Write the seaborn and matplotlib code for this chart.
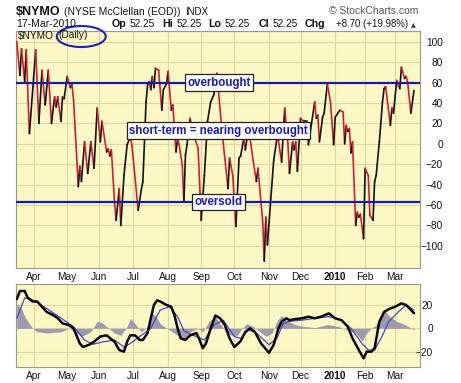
import numpy as np
import pandas as pd
import matplotlib
matplotlib.use("Agg")
import matplotlib.pyplot as plt
import seaborn as sns
from matplotlib.collections import LineCollection
from matplotlib.patches import Ellipse

# ---------------- data ----------------
month_labels = ["Apr", "May", "Jun", "Jul", "Aug", "Sep", "Oct", "Nov", "Dec", "2010", "Feb", "Mar"]
month_day = [11, 32, 52, 74, 96, 117, 138, 160, 180, 202, 221, 240]   # trading-session numbers

nymo_day = [0, 2, 3, 5, 6, 8, 12, 14, 16, 18,
            20, 22, 24, 25, 26, 28, 29, 30, 32, 34,
            35, 36, 37, 39, 40, 41, 43, 45, 47, 49,
            51, 53, 54, 57, 58, 59, 60, 62, 63, 65,
            66, 68, 70, 72, 73, 77, 79, 80, 82, 83,
            84, 85, 86, 87, 88, 90, 92, 93, 95, 96,
            98, 99, 101, 102, 103, 105, 106, 107, 108, 110,
            112, 115, 117, 119, 121, 123, 125, 127, 130, 134,
            135, 137, 139, 141, 142, 144, 145, 146, 148, 150,
            152, 153, 156, 157, 158, 159, 161, 163, 165, 166,
            168, 170, 172, 173, 175, 176, 177, 178, 180, 182,
            184, 185, 189, 190, 191, 192, 194, 195, 197, 199,
            201, 202, 205, 207, 208, 209, 210, 211, 212, 213,
            215, 216, 217, 218, 220, 221, 223, 224, 226, 227,
            228, 230, 232, 233, 234, 237, 238, 239, 241, 242,
            243, 244, 246, 247, 248, 250, 252]
nymo_val = [100, 67, 93, 61, 92, 10, 92, 20, 72, 38,
            72, 20, 46, 36, 46, 22, 46, 44, 66, 55,
            58, 43, 15, -42, -22, -37, 2, -29, 2, -24,
            35, 2, 22, -8, -5, -12, -6, -57, -75, -44,
            -80, -31, -1, 7, -1, -65, -45, -37, 41, 58,
            61, 53, 66, 55, 74, 72, 33, 53, 59, 71,
            33, 38, -8, 5, -1, -21, -57, -11, -1, 25,
            9, -4, -75, -31, 22, 41, 48, 69, 15, -44,
            -14, -31, -81, -14, -12, 5, -6, 5, 5, -17,
            -37, -24, -76, -115, -72, -99, -57, -16, 5, 3,
            -18, 35, 0, -29, 2, -6, 2, -27, 25, 22,
            22, -1, 41, 25, 28, 2, 26, 30, 59, 41,
            -1, 26, 33, 31, 0, 18, 12, 15, -9, 2,
            -80, -67, -72, -69, -93, -24, -31, -70, -75, -37,
            -31, 2, 41, 54, 56, 18, 35, 30, 62, 57,
            54, 75, 64, 66, 60, 30, 52.25]

overbought_level = 60
oversold_level = -57

macd_day = [0, 2, 5, 7, 10, 13, 16, 19, 23, 26,
            29, 33, 36, 40, 42, 46, 49, 53, 57, 62,
            65, 68, 70, 72, 75, 78, 80, 83, 85, 87,
            89, 91, 95, 98, 100, 102, 104, 107, 110, 114,
            116, 118, 120, 123, 126, 129, 132, 135, 138, 142,
            145, 148, 151, 155, 160, 163, 166, 168, 171, 173,
            177, 181, 185, 189, 193, 198, 202, 206, 210, 213,
            217, 220, 222, 225, 227, 230, 233, 236, 240, 244,
            247, 252]
macd_val = [25, 32, 32, 26, 23, 23, 18.5, 14, 11.4, 8.6,
            4.3, 2.8, 0, -13, -16, -14, -11.5, -7, -6, -11.5,
            -18.6, -20, -11.5, -6, -6, -10, -10, -4, 8.6, 20,
            24, 23, 20, 18.5, 11.4, 0, -8.6, -10, -6, -4,
            -10, -17, -13, 0, 11, 8.6, 2.8, -8.6, -16, -11,
            -3, 0, -3, -13, -21, -14, 0, 5.7, 8.6, 7,
            8, 8.6, 10, 8.6, 10, 12.8, 8.6, 7, 1.4, -8.6,
            -18.6, -25.7, -20, -20, -17, 5.7, 14, 16.5, 18.5, 21.4,
            20, 13]

signal_day = [0, 5, 8, 19, 30, 36, 43, 48, 55, 62,
              68, 72, 79, 85, 91, 97, 102, 106, 112, 119,
              125, 131, 138, 142, 147, 152, 160, 165, 169, 173,
              181, 189, 198, 206, 212, 219, 223, 227, 232, 236,
              242, 247, 252]
signal_val = [8.6, 26, 26, 17, 7, 1.4, -10, -13.7, -11.5, -10,
              -16, -13, -6, 0, 15.7, 18.5, 10, -2, -6, -10,
              2.8, 7, -7, -8.6, -1.4, -4, -14, -8.6, 4, 6,
              7, 8.6, 10, 7, 0, -13, -18.6, -18.6, -6, 5.7,
              14, 20, 15.7]

hist_day = [0, 3, 5, 8, 10, 13, 19, 28, 33, 37,
            41, 47, 51, 54, 57, 62, 66, 70, 72, 75,
            79, 83, 86, 88, 91, 97, 102, 106, 110, 115,
            118, 122, 126, 129, 132, 136, 140, 143, 146, 150,
            153, 158, 162, 165, 168, 171, 177, 183, 189, 196,
            199, 204, 210, 215, 219, 222, 225, 228, 230, 233,
            236, 241, 246, 252]
hist_val = [21, 17, 10, 4, 0, -3, -4, -3, 0, -3,
            -7, -3, 6, 5, 1.5, -4, -6, 1.5, 8.6, 4,
            -3, 1.5, 13, 11, 4, -1.5, -6, -10, -3, 0,
            -3, 6, 10, 4, -1.5, -6, -6, 0, 4, 1.5,
            -1.5, -7, -4, 6, 11, 7, 3, 1.5, 0.5, 3,
            3, 1.5, -1.5, -4, -11, -4, 0, 3, 8.6, 16,
            11, 6, 3.5, -1.5]

# ---------------- style ----------------
sns.set_theme(style="white")
plt.rcParams["font.family"] = ["Liberation Sans", "DejaVu Sans"]

W, H = 461, 383
BG = "#fbf8c6"
GRID = "#dcd7a2"
NAVY = "#1a1aa8"
RED = "#cc2030"

fig = plt.figure(figsize=(W / 100, H / 100), dpi=100)
fig.patch.set_facecolor("white")

def fx(x):
    return x / W

def fy(y):
    return 1 - y / H

ax = fig.add_axes([fx(16), fy(268.3), 404 / W, (268.3 - 31) / H])
ax2 = fig.add_axes([fx(16), fy(367.3), 404 / W, (367.3 - 284) / H])

for a in (ax, ax2):
    a.set_facecolor(BG)
    a.set_axisbelow(True)
    for s in a.spines.values():
        s.set_color("#9a9a8a")
        s.set_linewidth(0.8)
    a.set_xlim(-0.5, 255.8)
    a.set_xticks(month_day)
    a.set_xticklabels(month_labels)
    a.grid(True, color=GRID, lw=0.8)
    a.yaxis.tick_right()

# ---------------- main panel ----------------
df = pd.DataFrame({"day": nymo_day, "val": nymo_val})
sns.lineplot(data=df, x="day", y="val", ax=ax, color=RED, lw=0, legend=False)
pts = df[["day", "val"]].to_numpy(dtype=float)
segs = [pts[i:i + 2] for i in range(len(pts) - 1)]
cols = ["#111111" if pts[i + 1, 1] >= pts[i, 1] else RED for i in range(len(pts) - 1)]
ax.add_collection(LineCollection(segs, colors=cols, linewidths=1.2, capstyle="round", joinstyle="round", zorder=3))

ax.axhline(overbought_level, color=NAVY, lw=1.6, zorder=4)
ax.axhline(oversold_level, color=NAVY, lw=1.6, zorder=4)

ax.set_ylim(-122, 110.5)
ax.set_yticks(range(-100, 101, 20))
ax.tick_params(axis="y", length=0, pad=16.6, labelsize=7.3, colors="#111111")
plt.setp(ax.get_yticklabels(), ha="right")
ax.tick_params(axis="x", length=0, pad=3, labelsize=7.3, colors="#111111")
ax.set_xlabel("")
ax.set_ylabel("")

box = dict(boxstyle="square,pad=0.18", fc="white", ec="#222222", lw=0.9)
tkw = dict(color=NAVY, fontsize=8.3, fontweight="bold", ha="center", va="center", bbox=box, zorder=6)
ax.text(128.3, overbought_level, "overbought", **tkw)
ax.text(127.9, 13, "short-term = nearing overbought", **tkw)
ax.text(128.0, oversold_level, "oversold", **tkw)

# ---------------- lower panel ----------------
ax2.fill_between(hist_day, 0, hist_val, color="#9c9cae", lw=0, interpolate=True, zorder=2)
sdf = pd.DataFrame({"day": signal_day, "val": signal_val})
mdf = pd.DataFrame({"day": macd_day, "val": macd_val})
sns.lineplot(data=sdf, x="day", y="val", ax=ax2, color="#4646c8", lw=0.9, zorder=3)
sns.lineplot(data=mdf, x="day", y="val", ax=ax2, color="#0a0a0a", lw=1.8, zorder=4)
ax2.set_ylim(-33.4, 38)
ax2.set_yticks([-20, 0, 20])
ax2.tick_params(axis="y", length=0, pad=9.4, labelsize=7.3, colors="#111111")
plt.setp(ax2.get_yticklabels(), ha="right")
ax2.tick_params(axis="x", length=0, pad=3, labelsize=7.3, colors="#111111")
ax2.set_xlabel("")
ax2.set_ylabel("")

for a in (ax, ax2):
    for lab in a.get_xticklabels():
        if lab.get_text() == "2010":
            lab.set_fontweight("bold")

# ---------------- header ----------------
fig.text(fx(16), fy(15), "$NYMO", fontsize=9, fontweight="bold", color="#111111", va="baseline")
fig.text(fx(64), fy(15), "(NYSE McClellan (EOD))", fontsize=7.5, color="#111111", va="baseline")
fig.text(fx(185), fy(15), "INDX", fontsize=7, color="#111111", va="baseline")
fig.text(fx(418), fy(14.5), "\u00a9 StockCharts.com", fontsize=7.5, color="#555555", va="baseline", ha="right")

fig.text(fx(16), fy(27.3), "17-Mar-2010", fontsize=7.5, color="#111111", va="baseline")
parts = [(111.7, "Op", True), (130, "52.25", False), (162.3, "Hi", True), (176.7, "52.25", False),
         (208.3, "Lo", True), (225, "52.25", False), (258.3, "Cl", True), (272.7, "52.25", False),
         (305, "Chg", True)]
for x, t, b in parts:
    fig.text(fx(x), fy(27.3), t, fontsize=7.7 if b else 7.3, fontweight="bold" if b else "normal",
             color="#111111", va="baseline")
fig.text(fx(408), fy(27.3), "+8.70 (+19.98%)", fontsize=6.9, color="#111111", va="baseline", ha="right")
fig.text(fx(411), fy(27), "\u25b2", fontsize=4.5, color="#333333", va="baseline", family="DejaVu Sans")

fig.text(fx(17.5), fy(38.5), "$NYMO", fontsize=7.3, color="#111111", va="baseline")
fig.text(fx(58.5), fy(38.5), "(Daily)", fontsize=7.3, color="#111111", va="baseline")
fig.add_artist(Ellipse((fx(81.3), fy(36.5)), 49 / W, 21 / H, transform=fig.transFigure,
                       fill=False, ec="#2020b8", lw=1.5))

fig.savefig("out.png", dpi=100)
